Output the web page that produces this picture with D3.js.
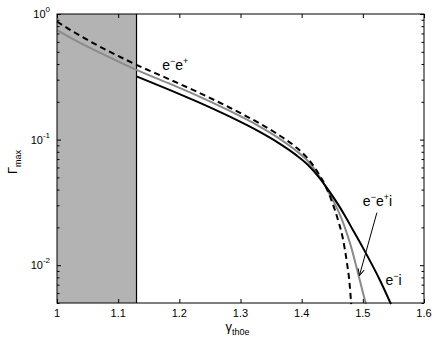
<!DOCTYPE html>
<html>
<head>
<meta charset="utf-8">
<script src="https://d3js.org/d3.v7.min.js"></script>
<style>
  body { margin: 0; background: #fff; }
  text { font-family: "Liberation Sans", Arial, sans-serif; fill: #000; }
</style>
</head>
<body>
<div id="chart"></div>
<script>
// data (x = gamma_th0e, y = Gamma_max)
var xTicks = [1, 1.1, 1.2, 1.3, 1.4, 1.5, 1.6];
var yMajor = [0.01, 0.1, 1];
var yExp = ["-2", "-1", "0"];
var shadeRange = [1, 1.13];

// e-i (black solid)
var eiX = [1.13, 1.18, 1.23, 1.28, 1.33, 1.36, 1.39, 1.41, 1.43, 1.445, 1.46, 1.47, 1.485, 1.5, 1.528, 1.546];
var eiY = [0.319, 0.2535, 0.1995, 0.1542, 0.1161, 0.0955, 0.0759, 0.0631, 0.0490, 0.0389, 0.0302, 0.0251, 0.0186, 0.0138, 0.00759, 0.0049];

// e-e+i (grey solid)
var eeiX = [1.0, 1.04, 1.08, 1.13, 1.18, 1.23, 1.28, 1.33, 1.36, 1.39, 1.41, 1.43, 1.445, 1.46, 1.47, 1.48, 1.495, 1.505];
var eeiY = [0.745, 0.581, 0.467, 0.359, 0.284, 0.223, 0.1714, 0.1282, 0.1047, 0.0822, 0.0676, 0.0501, 0.0372, 0.0269, 0.0204, 0.01445, 0.00759, 0.0049];

// e-e+ (black dashed)
var eeX = [1.0, 1.02, 1.05, 1.08, 1.11, 1.13, 1.18, 1.23, 1.28, 1.33, 1.36, 1.39, 1.41, 1.425, 1.44, 1.45, 1.46, 1.467, 1.474, 1.478, 1.481];
var eeY = [0.871, 0.755, 0.621, 0.519, 0.4385, 0.3936, 0.3076, 0.2388, 0.1820, 0.1355, 0.1109, 0.0875, 0.0708, 0.0562, 0.0417, 0.0316, 0.0224, 0.0166, 0.01047, 0.00741, 0.0049];

var margin = {top: 14, right: 12, bottom: 37, left: 57},
    width = 436 - margin.left - margin.right,
    height = 340 - margin.top - margin.bottom;

var svg = d3.select("#chart")
  .append("svg")
    .attr("width", 436)
    .attr("height", 340)
  .append("g")
    .attr("transform", "translate(" + margin.left + "," + margin.top + ")");

var x = d3.scaleLinear().domain([1, 1.6]).range([0, width]);
var y = d3.scaleLog().domain([0.005, 1]).range([height, 0]);

// minor ticks of the log axis
var yMinor = [];
[0.001, 0.01, 0.1].forEach(function(p) {
  for (var k = 2; k <= 9; k++) {
    var v = p * k;
    if (v >= 0.005 && v < 1) yMinor.push(v);
  }
});

// shaded region
svg.append("rect")
  .attr("x", x(shadeRange[0]))
  .attr("y", 0)
  .attr("width", x(shadeRange[1]) - x(shadeRange[0]))
  .attr("height", height)
  .style("fill", "#b3b3b3");
svg.append("line")
  .attr("x1", x(shadeRange[1])).attr("x2", x(shadeRange[1]))
  .attr("y1", 0).attr("y2", height)
  .attr("stroke", "#000").attr("stroke-width", 1.2);

// curves
var line = d3.line()
  .x(function(d) { return x(d[0]); })
  .y(function(d) { return y(d[1]); })
  .curve(d3.curveMonotoneX);

function pairs(xs, ys) { return xs.map(function(v, i) { return [v, ys[i]]; }); }

svg.append("path")
  .datum(pairs(eeiX, eeiY))
  .attr("fill", "none").attr("stroke", "#8a8a8a").attr("stroke-width", 2)
  .attr("d", line);
svg.append("path")
  .datum(pairs(eeX, eeY))
  .attr("fill", "none").attr("stroke", "#000").attr("stroke-width", 2)
  .attr("stroke-dasharray", "6,4")
  .attr("d", line);
svg.append("path")
  .datum(pairs(eiX, eiY))
  .attr("fill", "none").attr("stroke", "#000").attr("stroke-width", 2)
  .attr("d", line);

// axes (ticks pointing inward on all four sides)
function styleAxis(g) {
  g.select(".domain").remove();
  g.selectAll(".tick line").attr("stroke", "#000");
  g.selectAll("text").remove();
}
svg.append("g").attr("transform", "translate(0," + height + ")")
  .call(d3.axisBottom(x).tickValues(xTicks).tickSize(-4)).call(styleAxis);
svg.append("g")
  .call(d3.axisTop(x).tickValues(xTicks).tickSize(-4)).call(styleAxis);
svg.append("g")
  .call(d3.axisLeft(y).tickValues(yMajor).tickSize(-4)).call(styleAxis);
svg.append("g")
  .call(d3.axisLeft(y).tickValues(yMinor).tickSize(-2.5)).call(styleAxis);
svg.append("g").attr("transform", "translate(" + width + ",0)")
  .call(d3.axisRight(y).tickValues(yMajor).tickSize(-4)).call(styleAxis);
svg.append("g").attr("transform", "translate(" + width + ",0)")
  .call(d3.axisRight(y).tickValues(yMinor).tickSize(-2.5)).call(styleAxis);

svg.append("rect")
  .attr("width", width).attr("height", height)
  .attr("fill", "none").attr("stroke", "#000").attr("stroke-width", 1);

// tick labels
svg.append("g").selectAll("text")
  .data(xTicks)
  .enter().append("text")
    .attr("x", function(d) { return x(d); })
    .attr("y", height + 14)
    .attr("text-anchor", "middle")
    .style("font-size", "11px")
    .text(function(d) { return d3.format("")(d); });

var yl = svg.append("g").selectAll("text")
  .data(yMajor)
  .enter().append("text")
    .attr("x", -7)
    .attr("y", function(d) { return y(d) + 4; })
    .attr("text-anchor", "end")
    .style("font-size", "11px");
yl.append("tspan").text("10");
yl.append("tspan").attr("dy", -6).style("font-size", "8px")
  .text(function(d, i) { return yExp[i]; });

// axis titles
var xt = svg.append("text")
  .attr("x", x(1.3) - 15)
  .attr("y", height + 28)
  .style("font-size", "13px");
xt.append("tspan").text("γ");
xt.append("tspan").attr("dy", 4).style("font-size", "9px").text("th0e");

var yt = svg.append("text")
  .attr("transform", "translate(" + (-40) + "," + (y(0.07) + 15) + ") rotate(-90)")
  .style("font-size", "13px");
yt.append("tspan").text("Γ");
yt.append("tspan").attr("dy", 4).style("font-size", "9px").text("max");

// curve labels
function supLabel(px, py, parts) {
  var t = svg.append("text").attr("x", px).attr("y", py).style("font-size", "14px");
  var up = false;
  parts.forEach(function(p) {
    var s = t.append("tspan").text(p[0]);
    if (p[1] && !up) { s.attr("dy", -6).style("font-size", "9px"); up = true; }
    else if (!p[1] && up) { s.attr("dy", 6); up = false; }
  });
  return t;
}
supLabel(x(1.172), y(0.36), [["e", 0], ["\u2212", 1], ["e", 0], ["+", 1]]);
supLabel(x(1.5), y(0.0295), [["e", 0], ["\u2212", 1], ["e", 0], ["+", 1], ["i", 0]]);
supLabel(x(1.537), y(0.0069), [["e", 0], ["\u2212", 1], ["i", 0]]);

// arrow to the e-e+i curve
svg.append("defs").append("marker")
  .attr("id", "ah").attr("viewBox", "0 0 10 10")
  .attr("refX", 9).attr("refY", 5)
  .attr("markerWidth", 8).attr("markerHeight", 8)
  .attr("orient", "auto")
  .append("path").attr("d", "M1,1 L9,5 L1,9").attr("fill", "none").attr("stroke", "#000").attr("stroke-width", 1.2);
svg.append("line")
  .attr("x1", x(1.523)).attr("y1", y(0.0262))
  .attr("x2", x(1.4945)).attr("y2", y(0.0083))
  .attr("stroke", "#000").attr("stroke-width", 1)
  .attr("marker-end", "url(#ah)");
</script>
</body>
</html>
